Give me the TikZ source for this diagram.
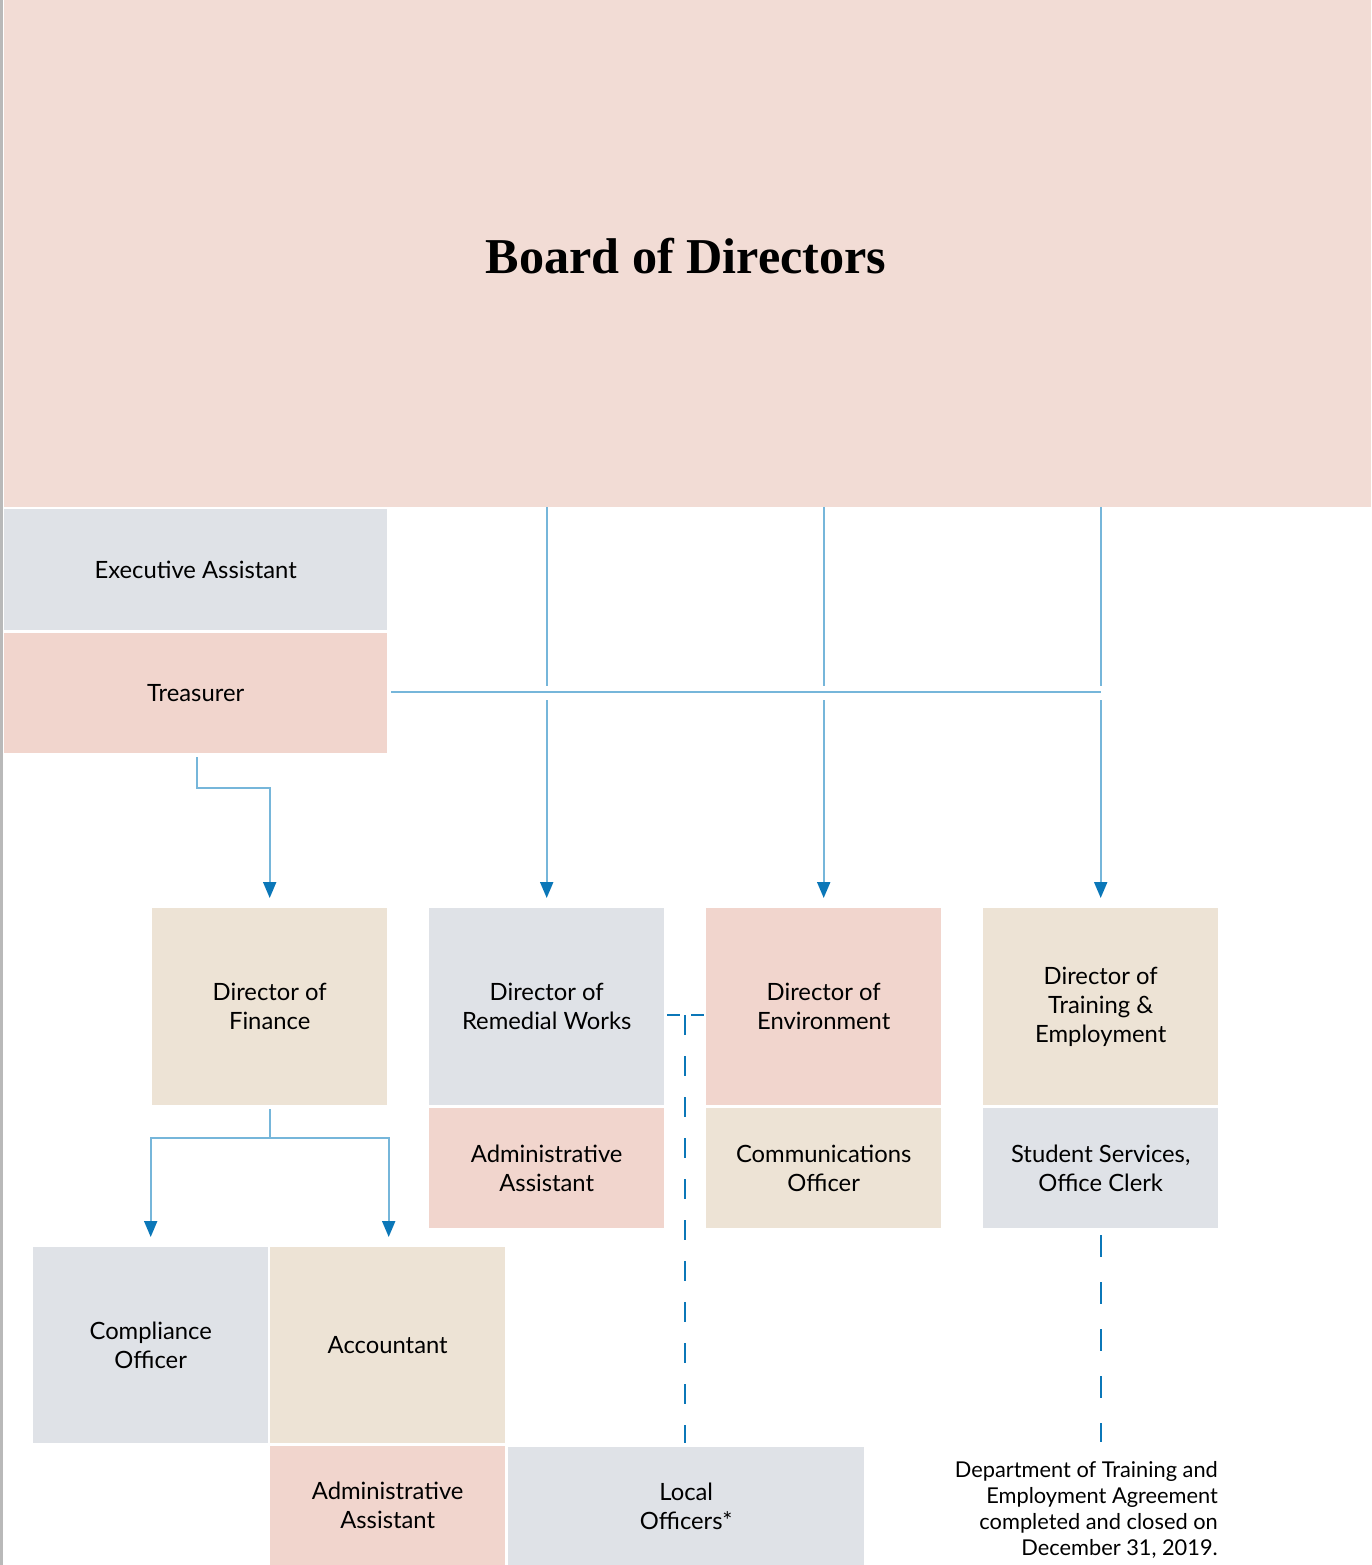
\documentclass[tikz,border=0pt]{standalone}
\usepackage{fontspec}
\setmainfont{Lato}
\newfontfamily\titlefont{Liberation Serif}
\usetikzlibrary{arrows.meta,calc}
\definecolor{boardpink}{HTML}{F2DCD5}
\definecolor{boxpink}{HTML}{F1D5CD}
\definecolor{boxgray}{HTML}{DFE2E7}
\definecolor{boxtan}{HTML}{EDE3D5}
\definecolor{linelight}{HTML}{76B6DA}
\definecolor{tipblue}{HTML}{0B77B8}
\begin{document}
\begin{tikzpicture}[x=1pt,y=-1pt,
  box/.style={rectangle, inner sep=0pt, anchor=north west, align=center,
    font=\fontsize{23.8}{29}\selectfont, text=black},
  conn/.style={draw=linelight, line width=2pt},
  arr/.style={-{Triangle[width=13pt,length=16pt,color=tipblue]}},
  dashline/.style={draw=tipblue, line width=2pt}]
\useasboundingbox (0,0) rectangle (1371,1565);
\fill[white] (0,0) rectangle (1371,1565);
\fill[gray!55] (0,0) rectangle (3,1565);

\node[box, fill=boardpink, minimum width=1367pt, minimum height=507pt] (board) at (4,0) {};
\node[font=\titlefont\bfseries\fontsize{50.2}{60}\selectfont] (title) at (686,256) {Board of Directors};

\node[box, fill=boxgray, minimum width=383pt, minimum height=121pt] (exec) at (4,509) {Executive Assistant};
\node[box, fill=boxpink, minimum width=383pt, minimum height=120pt] (treas) at (4,633) {Treasurer};

\node[box, fill=boxtan, minimum width=235pt, minimum height=197pt] (fin) at (152,908) {Director of\\Finance};
\node[box, fill=boxgray, minimum width=235pt, minimum height=197pt] (rem) at (429,908) {Director of\\Remedial Works};
\node[box, fill=boxpink, minimum width=235pt, minimum height=120pt] (adm1) at (429,1108) {Administrative\\Assistant};
\node[box, fill=boxpink, minimum width=235pt, minimum height=197pt] (env) at (706,908) {Director of\\Environment};
\node[box, fill=boxtan, minimum width=235pt, minimum height=120pt] (comm) at (706,1108) {Communications\\Officer};
\node[box, fill=boxtan, minimum width=235pt, minimum height=197pt] (train) at (983,908) {Director of\\Training \&\\Employment};
\node[box, fill=boxgray, minimum width=235pt, minimum height=120pt] (stud) at (983,1108) {Student Services,\\Office Clerk};

\node[box, fill=boxgray, minimum width=235pt, minimum height=196pt] (comp) at (33,1247) {Compliance\\Officer};
\node[box, fill=boxtan, minimum width=235pt, minimum height=196pt] (acct) at (270,1247) {Accountant};
\node[box, fill=boxpink, minimum width=235pt, minimum height=119pt] (adm2) at (270,1446) {Administrative\\Assistant};
\node[box, fill=boxgray, minimum width=356pt, minimum height=118pt] (local) at (508,1447) {Local\\Officers*};

\node[anchor=north east, align=right, inner sep=0pt, font=\fontsize{21.8}{26}\selectfont] (note) at (1218,1461)
  {Department of Training and\\Employment Agreement\\completed and closed on\\December 31, 2019.};

% horizontal line from Treasurer
\coordinate (hlS) at ($(treas.east)+(4,-1)$);
\coordinate (hlE) at (hlS -| train.north);
\draw[conn] (hlS) -- (hlE);

% Board to directors
\foreach \d in {rem,env,train}{
  \draw[conn] (board.south -| \d.north) -- ($(hlS -| \d.north)+(0,-6)$);
  \draw[conn,arr] ($(hlS -| \d.north)+(0,8)$) -- ($(\d.north)+(0,-10)$);
}

% Treasurer to Director of Finance
\draw[conn,arr] ($(treas.south)+(1,4)$) -- ++(0,31) -| ($(fin.north)+(0,-10)$);

% Finance to Compliance and Accountant
\coordinate (fsplit) at ($(fin.south)+(0,33)$);
\draw[conn] ($(fin.south)+(0,4)$) -- (fsplit);
\draw[conn,arr] (fsplit) -| ($(comp.north)+(0,-10)$);
\draw[conn,arr] (fsplit) -| ($(acct.north)+(1,-10)$);

% dashed links
\coordinate (dmid) at ($(rem.east)!0.5!(env.west)+(0,8.5)$);
\draw[dashline, dash pattern=on 13pt off 11pt] ($(rem.east)+(3,8.5)$) -- ($(env.west)+(-1,8.5)$);
\draw[dashline, dash pattern=on 20pt off 21pt] (dmid) -- ($(local.north)+(-1,-4)$);
\draw[dashline, dash pattern=on 22pt off 25pt] ($(stud.south)+(0,7)$) -- ($(stud.south |- note.north)+(0,-19)$);
\end{tikzpicture}
\end{document}
